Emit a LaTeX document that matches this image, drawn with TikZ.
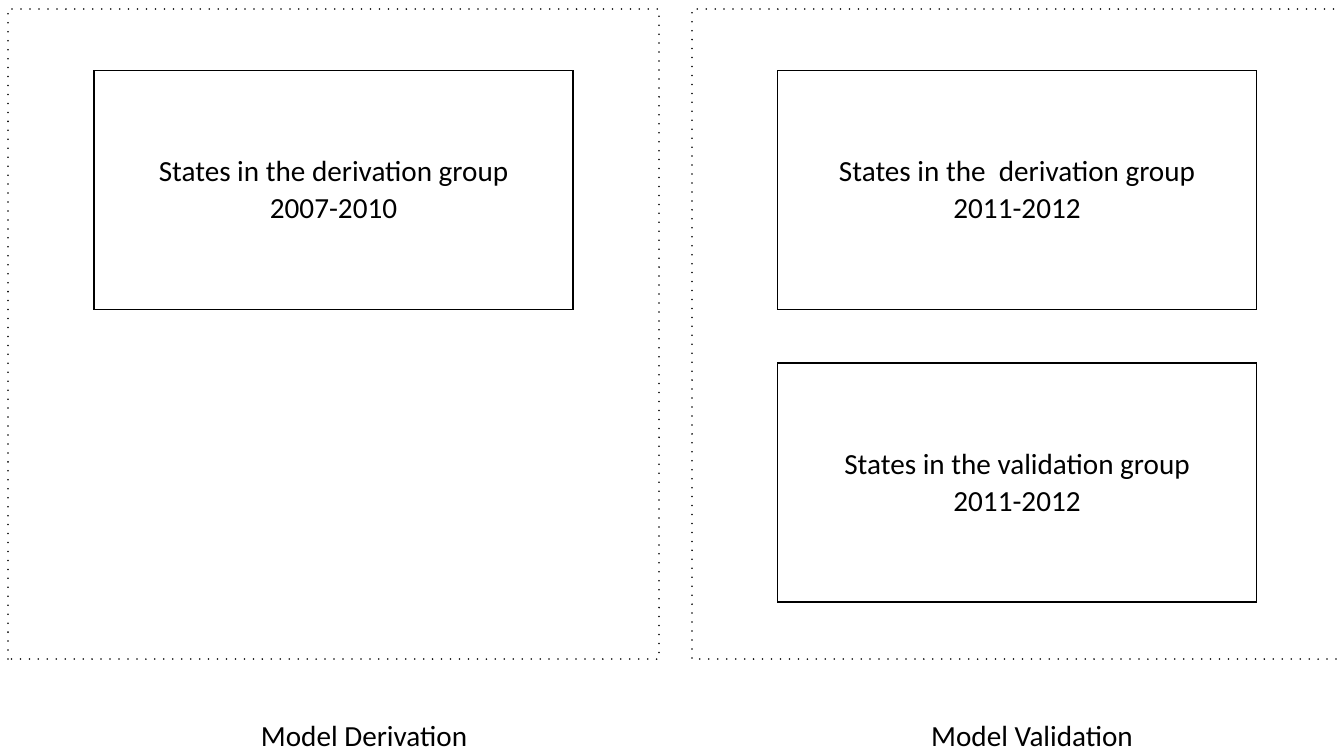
\documentclass[tikz,border=0pt]{standalone}
\usepackage{fontspec}
\setmainfont{Carlito}
\usepackage{tikz}
\usetikzlibrary{positioning}
\tikzset{groupbox/.style={draw, line width=1.1pt, minimum width=479*0.02cm, minimum height=239*0.02cm, align=center, font=\fontsize{16.6}{21}\selectfont, inner sep=0pt}}
\tikzset{dotframe/.style={line width=1pt, line cap=round, dash pattern=on 0pt off 5.1pt}}
\tikzset{caption/.style={anchor=base, font=\fontsize{16.6}{21}\selectfont}}

\begin{document}
\begin{tikzpicture}[x=0.02cm, y=-0.02cm, every node/.style={inner sep=.25ex}]
  \useasboundingbox (0,0) rectangle (1340,751);
  % dotted frames
  \draw[dotframe] (8,659) -- (8,9) -- (659,9) -- (659,659) -- cycle;
  \draw[dotframe] (1345,659) -- (692,659) -- (692,9) -- (1345,9);
  \node[groupbox] (derivA) at (333.5,190) {States in the derivation group\\2007-2010};
  \node[groupbox] (derivB) at (1017,190) {States in the \ derivation group\\2011-2012};
  \node[groupbox, below = 52*0.02cm of derivB] (valid) {States in the validation group\\2011-2012};
  \node[caption] (lblD) at (364,746) {Model Derivation};
  \node[caption] (lblV) at (1032,746) {Model Validation};

\end{tikzpicture}
\end{document}
